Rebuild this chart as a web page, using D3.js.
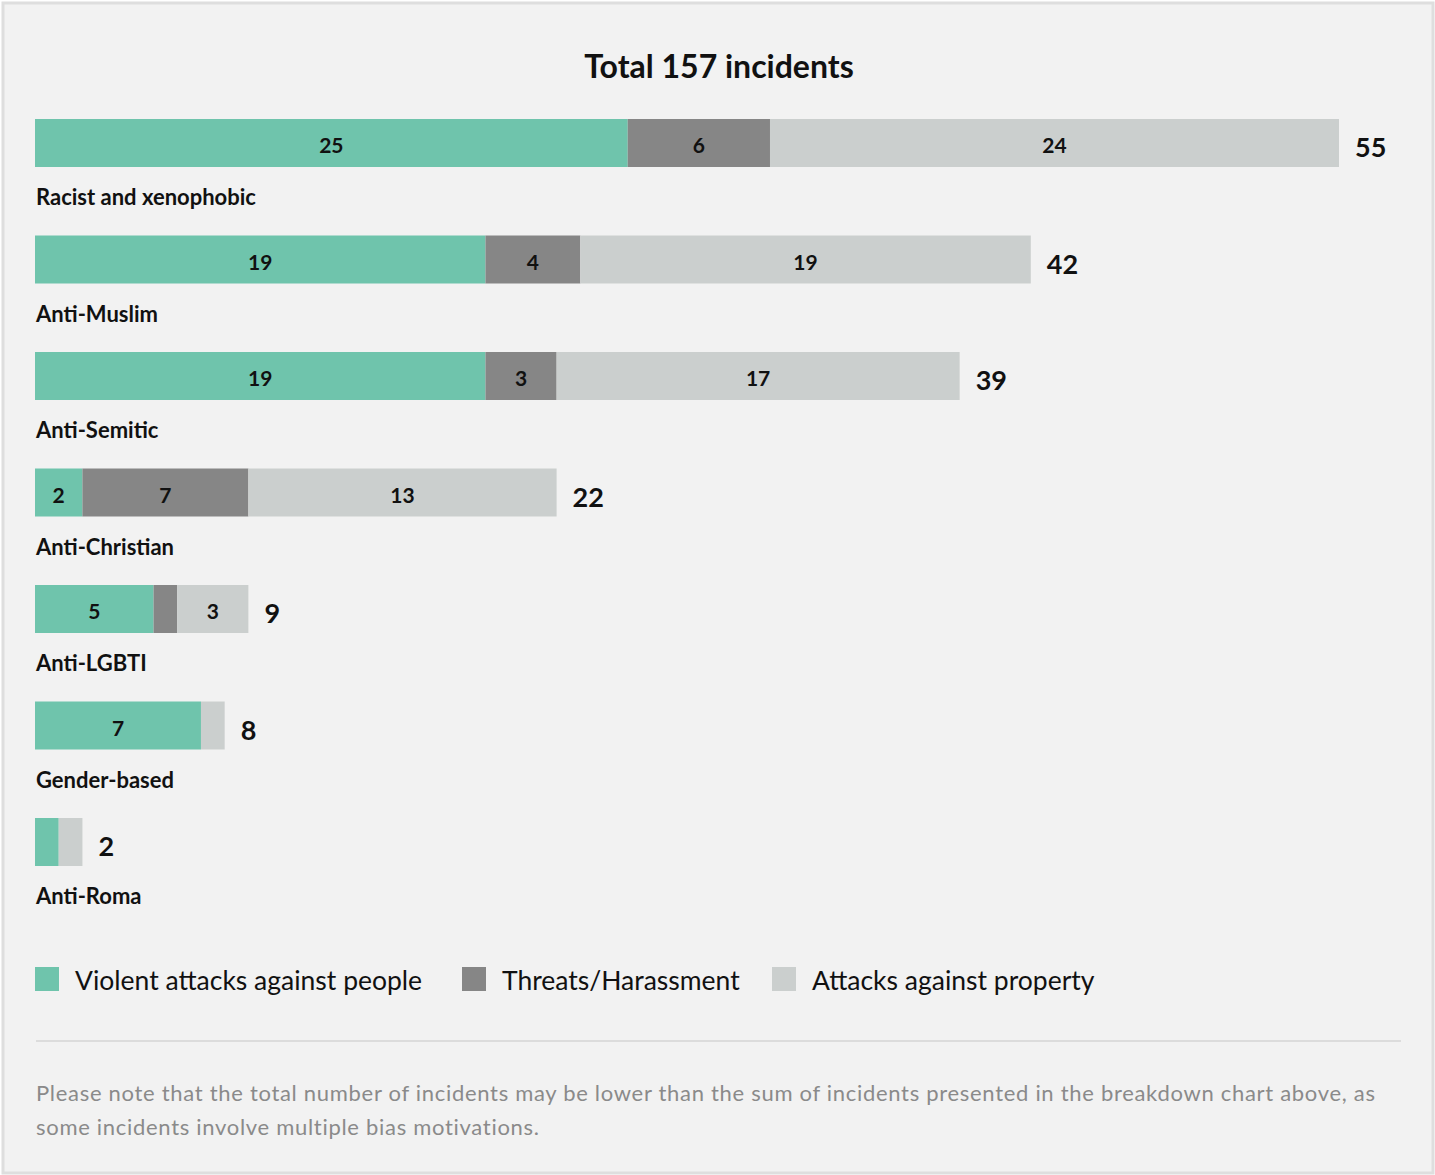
<!DOCTYPE html>
<html>
<head>
<meta charset="utf-8">
<script src="https://cdn.jsdelivr.net/npm/d3@7"></script>
<style>
  body { margin: 0; background: #fff; }
  svg text { font-family: Lato, "Noto Sans", sans-serif; }
</style>
</head>
<body>
<div id="chart"></div>
<script>
var categories = ["Racist and xenophobic", "Anti-Muslim", "Anti-Semitic", "Anti-Christian", "Anti-LGBTI", "Gender-based", "Anti-Roma"];
var violent = [25, 19, 19, 2, 5, 7, 1];
var threats = [6, 4, 3, 7, 1, 0, 0];
var property = [24, 19, 17, 13, 3, 1, 1];
var totals = [55, 42, 39, 22, 9, 8, 2];
var seriesNames = ["Violent attacks against people", "Threats/Harassment", "Attacks against property"];
var colors = ["#6fc4ac", "#868686", "#cbcfce"];
var title = "Total 157 incidents";
var note = ["Please note that the total number of incidents may be lower than the sum of incidents presented in the breakdown chart above, as",
            "some incidents involve multiple bias motivations."];

var width = 1435, height = 1175;

var svg = d3.select("#chart").append("svg")
    .attr("width", width)
    .attr("height", height);

// panel
svg.append("rect")
    .attr("x", 3).attr("y", 3)
    .attr("width", width - 5).attr("height", height - 5)
    .attr("fill", "#f2f2f2")
    .attr("stroke", "#dedede")
    .attr("stroke-width", 3);

svg.append("text")
    .attr("x", 719).attr("y", 78)
    .attr("text-anchor", "middle")
    .style("font-size", "32px").style("font-weight", 700)
    .attr("fill", "#111")
    .text(title);

var x = d3.scaleLinear().domain([0, 55]).range([35, 1339]);
var y = d3.scaleBand().domain(categories).range([119, 119 + 116.5 * categories.length]).paddingInner(0).paddingOuter(0);

var rows = categories.map(function (c, i) {
    return { cat: c, violent: violent[i], threats: threats[i], property: property[i], total: totals[i] };
});

var stack = d3.stack().keys(["violent", "threats", "property"]);
var layers = stack(rows);

var layer = svg.selectAll(".layer")
    .data(layers).enter().append("g")
    .attr("class", "layer")
    .attr("fill", function (d, i) { return colors[i]; });

layer.selectAll("rect")
    .data(function (d) { return d; })
    .enter().append("rect")
    .attr("x", function (d) { return x(d[0]); })
    .attr("y", function (d) { return y(d.data.cat); })
    .attr("width", function (d) { return x(d[1]) - x(d[0]); })
    .attr("height", 48);

layer.selectAll("text")
    .data(function (d) { return d.filter(function (s) { return s[1] - s[0] >= 2; }); })
    .enter().append("text")
    .attr("x", function (d) { return (x(d[0]) + x(d[1])) / 2; })
    .attr("y", function (d) { return y(d.data.cat) + 34; })
    .attr("text-anchor", "middle")
    .attr("fill", "#111")
    .style("font-size", "21px").style("font-weight", 700)
    .text(function (d) { return d[1] - d[0]; });

// totals
svg.selectAll(".total")
    .data(rows).enter().append("text")
    .attr("class", "total")
    .attr("x", function (d) { return x(d.total) + 16; })
    .attr("y", function (d) { return y(d.cat) + 38; })
    .attr("fill", "#111")
    .style("font-size", "27px").style("font-weight", 700)
    .text(function (d) { return d.total; });

// category labels
svg.selectAll(".cat")
    .data(rows).enter().append("text")
    .attr("class", "cat")
    .attr("x", 36)
    .attr("y", function (d) { return y(d.cat) + 86; })
    .attr("fill", "#111")
    .style("font-size", "22px").style("font-weight", 700)
    .text(function (d) { return d.cat; });

// legend
var legendX = [35, 462, 772];
var lg = svg.selectAll(".legend")
    .data(seriesNames).enter().append("g")
    .attr("class", "legend")
    .attr("transform", function (d, i) { return "translate(" + legendX[i] + ",967)"; });
lg.append("rect").attr("width", 24).attr("height", 24)
    .attr("fill", function (d, i) { return colors[i]; });
lg.append("text").attr("x", 40).attr("y", 23)
    .attr("fill", "#111")
    .style("font-size", "26.5px")
    .text(function (d) { return d; });

svg.append("line")
    .attr("x1", 36).attr("x2", 1401)
    .attr("y1", 1041).attr("y2", 1041)
    .attr("stroke", "#dcdcdc").attr("stroke-width", 2);

svg.selectAll(".note")
    .data(note).enter().append("text")
    .attr("class", "note")
    .attr("x", 36)
    .attr("y", function (d, i) { return 1101 + i * 34; })
    .attr("fill", "#8a8a8a")
    .style("font-size", "22px")
    .style("letter-spacing", "0.7px")
    .text(function (d) { return d; });
</script>
</body>
</html>
